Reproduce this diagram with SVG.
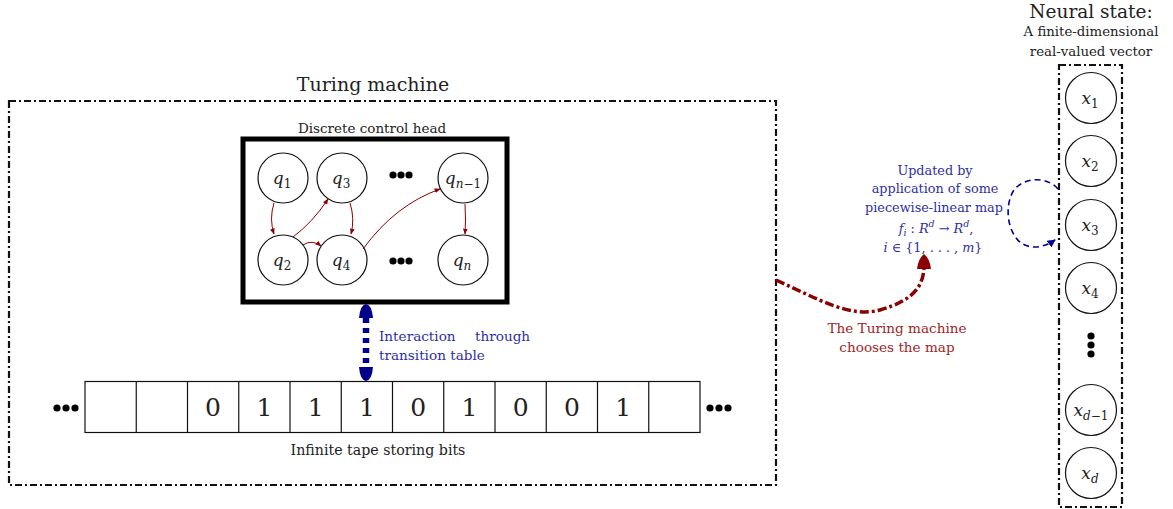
<svg xmlns="http://www.w3.org/2000/svg" width="1173" height="509" viewBox="0 0 1173 509" font-family="'DejaVu Serif', 'Liberation Serif', serif" fill="#222">
<style>
.dd{fill:none;stroke:#111;stroke-width:2.2;stroke-dasharray:7 3 2 3}
.st{fill:#fff;stroke:#111;stroke-width:1.2}
.m{font-style:italic;font-size:17px}
.sub{font-size:12px;font-style:normal}
.subi{font-size:12px;font-style:italic}
.ra{fill:none;stroke:#8b0000;stroke-width:1}
.blue{fill:#2e2ea6}
.red{fill:#a02525}
</style>
<defs>
<marker id="rh" viewBox="0 0 10 10" refX="9" refY="5" markerWidth="6" markerHeight="6" orient="auto"><path d="M0,1 L10,5 L0,9 z" fill="#8b0000"/></marker>
<marker id="bh" viewBox="0 0 10 10" refX="9" refY="5" markerWidth="5" markerHeight="5" orient="auto"><path d="M0,0 L10,5 L0,10 z" fill="#00008b"/></marker>
</defs>

<g id="turing-machine">
<rect class="dd" x="9" y="101" width="767" height="384"/>
<text x="373" y="91" font-size="19" text-anchor="middle">Turing machine</text>
</g>

<g id="control-head">
<rect x="243" y="139" width="264" height="163" fill="#fff" stroke="#000" stroke-width="5"/>
<text x="372" y="133" font-size="13.5" text-anchor="middle">Discrete control head</text>
</g>

<g id="q1"><circle class="st" cx="283" cy="178" r="25"/><text x="282" y="184" text-anchor="middle" class="m">q<tspan class="sub" dy="4">1</tspan></text></g>
<g id="q3"><circle class="st" cx="342" cy="178" r="25"/><text x="341" y="184" text-anchor="middle" class="m">q<tspan class="sub" dy="4">3</tspan></text></g>
<g id="qn1"><circle class="st" cx="463" cy="178" r="25"/><text x="463" y="184" text-anchor="middle" class="m">q<tspan class="subi" dy="4">n</tspan><tspan class="sub">−1</tspan></text></g>
<g id="q2"><circle class="st" cx="283" cy="260" r="25"/><text x="282" y="266" text-anchor="middle" class="m">q<tspan class="sub" dy="4">2</tspan></text></g>
<g id="q4"><circle class="st" cx="342" cy="260" r="25"/><text x="341" y="266" text-anchor="middle" class="m">q<tspan class="sub" dy="4">4</tspan></text></g>
<g id="qn"><circle class="st" cx="463" cy="260" r="25"/><text x="462" y="266" text-anchor="middle" class="m">q<tspan class="subi" dy="4">n</tspan></text></g>
<g id="dots-head" fill="#000">
<circle cx="393" cy="175" r="3.6"/><circle cx="401" cy="175" r="3.6"/><circle cx="409" cy="175" r="3.6"/>
<circle cx="393" cy="261" r="3.6"/><circle cx="401" cy="261" r="3.6"/><circle cx="409" cy="261" r="3.6"/>
</g>

<g id="tape">
<rect x="85" y="381.5" width="615" height="51" fill="#fff" stroke="#111" stroke-width="1.2"/>
<g stroke="#111" stroke-width="1.2">
<line x1="136.25" y1="381.5" x2="136.25" y2="432.5"/><line x1="187.5" y1="381.5" x2="187.5" y2="432.5"/>
<line x1="238.75" y1="381.5" x2="238.75" y2="432.5"/><line x1="290" y1="381.5" x2="290" y2="432.5"/>
<line x1="341.25" y1="381.5" x2="341.25" y2="432.5"/><line x1="392.5" y1="381.5" x2="392.5" y2="432.5"/>
<line x1="443.75" y1="381.5" x2="443.75" y2="432.5"/><line x1="495" y1="381.5" x2="495" y2="432.5"/>
<line x1="546.25" y1="381.5" x2="546.25" y2="432.5"/><line x1="597.5" y1="381.5" x2="597.5" y2="432.5"/>
<line x1="648.75" y1="381.5" x2="648.75" y2="432.5"/>
</g>
<g font-size="25" text-anchor="middle">
<text x="213" y="416">0</text><text x="264.4" y="416">1</text><text x="315.6" y="416">1</text>
<text x="366.9" y="416">1</text><text x="418.1" y="416">0</text><text x="469.4" y="416">1</text>
<text x="520.6" y="416">0</text><text x="571.9" y="416">0</text><text x="623.1" y="416">1</text>
</g>
<g fill="#000">
<circle cx="57" cy="408" r="3.6"/><circle cx="66" cy="408" r="3.6"/><circle cx="75" cy="408" r="3.6"/>
<circle cx="710" cy="408" r="3.6"/><circle cx="719" cy="408" r="3.6"/><circle cx="728" cy="408" r="3.6"/>
</g>
<text x="378" y="455" font-size="14.2" text-anchor="middle">Infinite tape storing bits</text>
</g>

<g id="neural-state">
<text x="1091" y="18" font-size="18.5" text-anchor="middle">Neural state:</text>
<text x="1091" y="36" font-size="13.3" text-anchor="middle">A finite-dimensional</text>
<text x="1091" y="56" font-size="13.3" text-anchor="middle">real-valued vector</text>
<rect class="dd" x="1059" y="65" width="63" height="442"/>
</g>
<g id="x1"><circle class="st" cx="1091" cy="98" r="25.5"/><text x="1090" y="104" text-anchor="middle" class="m">x<tspan class="sub" dy="4">1</tspan></text></g>
<g id="x2"><circle class="st" cx="1091" cy="161" r="25.5"/><text x="1090" y="167" text-anchor="middle" class="m">x<tspan class="sub" dy="4">2</tspan></text></g>
<g id="x3"><circle class="st" cx="1091" cy="225" r="25.5"/><text x="1090" y="231" text-anchor="middle" class="m">x<tspan class="sub" dy="4">3</tspan></text></g>
<g id="x4"><circle class="st" cx="1091" cy="288" r="25.5"/><text x="1090" y="294" text-anchor="middle" class="m">x<tspan class="sub" dy="4">4</tspan></text></g>
<g id="xdots" fill="#000"><circle cx="1091" cy="336" r="3.6"/><circle cx="1091" cy="345" r="3.6"/><circle cx="1091" cy="354" r="3.6"/></g>
<g id="xd1"><circle class="st" cx="1091" cy="410" r="25.5"/><text x="1091" y="416" text-anchor="middle" class="m">x<tspan class="subi" dy="4">d</tspan><tspan class="sub">−1</tspan></text></g>
<g id="xd"><circle class="st" cx="1091" cy="473" r="25.5"/><text x="1090" y="479" text-anchor="middle" class="m">x<tspan class="subi" dy="4">d</tspan></text></g>

<g id="connectors">
<path class="ra" d="M274,203 Q269,219 274,234" marker-end="url(#rh)"/>
<path class="ra" d="M293,237 Q313,222 328,199" marker-end="url(#rh)"/>
<path class="ra" d="M350,203 Q355,219 351,234" marker-end="url(#rh)"/>
<path class="ra" d="M303,245 Q312,239 321,246" marker-end="url(#rh)"/>
<path class="ra" d="M363,249 Q395,205 440,189" marker-end="url(#rh)"/>
<path class="ra" d="M465,204 Q466,219 465,234" marker-end="url(#rh)"/>

<path d="M366,318 V368" stroke="#00008b" stroke-width="6.5" stroke-dasharray="5 5" fill="none"/>
<path d="M366,304 Q360,305 359,318 L373,318 Q372,305 366,304 z" fill="#00008b"/>
<path d="M366,381 Q360,380 359,367 L373,367 Q372,380 366,381 z" fill="#00008b"/>

<path d="M776,280 C820,300 850,318 880,310 C915,300 923,285 924,268" fill="none" stroke="#8b0000" stroke-width="3.5" stroke-dasharray="9 3 3 3"/>
<path d="M924,254 Q918,259 917,269 L931,269 Q930,259 924,254 z" fill="#8b0000"/>

<path d="M1058,189 C1048,177 1025,176 1014,190 C1004,205 1007,232 1021,243 C1032,250 1045,247 1055,240" fill="none" stroke="#00008b" stroke-width="1.6" stroke-dasharray="6 4" marker-end="url(#bh)"/>
</g>

<g id="labels">
<text x="379" y="341" font-size="13.6" class="blue">Interaction<tspan x="475">through</tspan></text>
<text x="379" y="360" font-size="13.6" class="blue">transition table</text>
<g font-size="12.8" text-anchor="middle" class="blue">
<text x="935" y="175">Updated by</text>
<text x="935" y="193">application of some</text>
<text x="934" y="212">piecewise-linear map</text>
<text x="936" y="233"><tspan font-style="italic">f<tspan font-size="9.5" dy="3">i</tspan></tspan><tspan dy="-3"> : </tspan><tspan font-style="italic">R<tspan font-size="9.5" dy="-6">d</tspan></tspan><tspan dy="6"> → </tspan><tspan font-style="italic">R<tspan font-size="9.5" dy="-6">d</tspan></tspan><tspan dy="6">,</tspan></text>
<text x="933" y="252"><tspan font-style="italic">i</tspan> ∈ {1, . . . , <tspan font-style="italic">m</tspan>}</text>
</g>
<g font-size="13.6" text-anchor="middle" class="red">
<text x="897" y="333">The Turing machine</text>
<text x="897" y="352">chooses the map</text>
</g>
</g>
</svg>
